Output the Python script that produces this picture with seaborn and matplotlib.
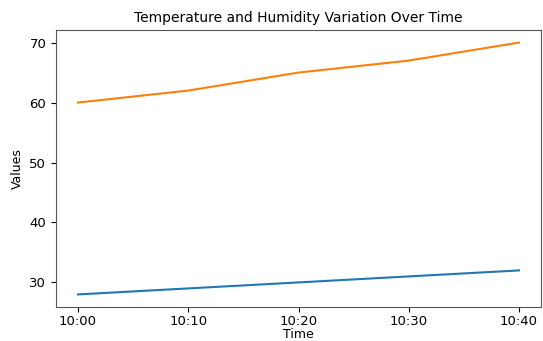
import matplotlib
matplotlib.use("Agg")
import matplotlib.pyplot as plt
import pandas as pd
import seaborn as sns

times = ['10:00', '10:10', '10:20', '10:30', '10:40']
temperature = [28, 29, 30, 31, 32]
humidity = [60, 62, 65, 67, 70]

df = pd.DataFrame({'Time': times, 'Temperature': temperature, 'Humidity': humidity})

fig = plt.figure(figsize=(5.43, 3.41), dpi=100)
ax = fig.add_subplot(111)
fig.subplots_adjust(left=56/543, right=541/543, top=1-30/341, bottom=1-307/341)

sns.lineplot(x='Time', y='Temperature', data=df, ax=ax, color='tab:blue')
sns.lineplot(x='Time', y='Humidity', data=df, ax=ax, color='tab:orange')

ax.set_title('Temperature and Humidity Variation Over Time', fontsize=10)
ax.set_xlabel('Time', fontsize=9, labelpad=0)
ax.set_ylabel('Values', fontsize=9)
ax.tick_params(labelsize=9.5)
ax.tick_params(axis='x', pad=2)
for s in ax.spines.values():
    s.set_color('#555555')

plt.savefig('out.png', dpi=100)
